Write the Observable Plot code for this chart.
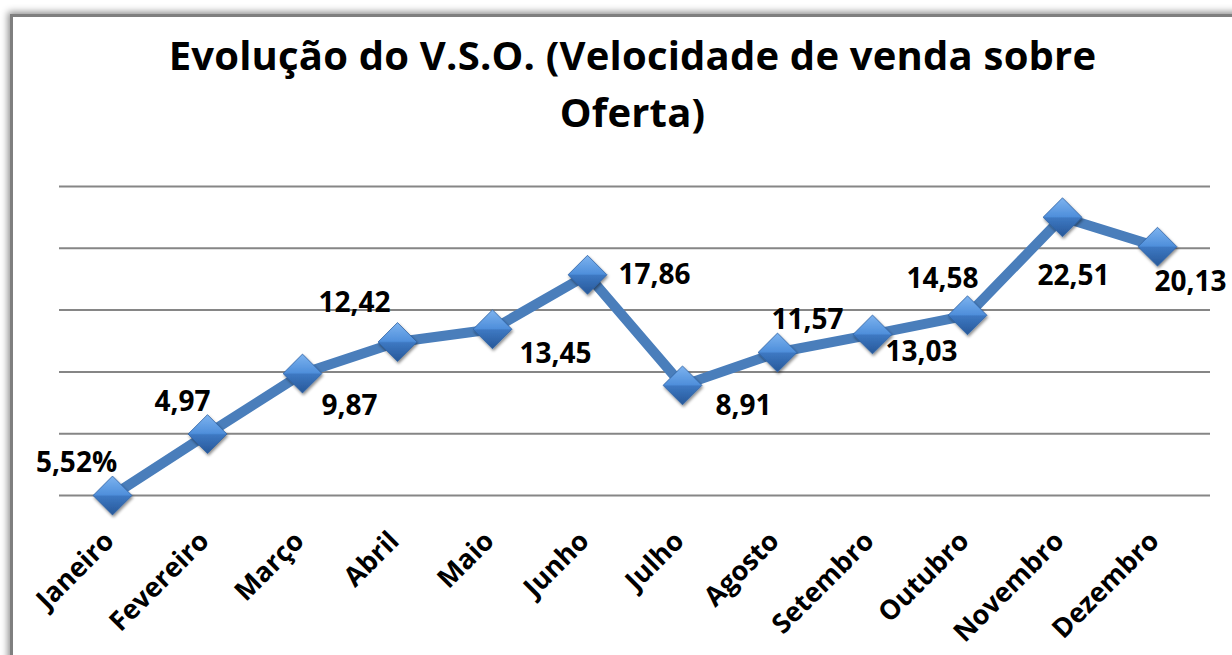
<!DOCTYPE html>
<html>
<head>
<meta charset="utf-8">
<script src="https://cdn.jsdelivr.net/npm/d3@7"></script>
<script src="https://cdn.jsdelivr.net/npm/@observablehq/plot@0.6"></script>
<style>
  html, body { margin: 0; padding: 0; background: #fff; }
  #wrap { position: relative; width: 1232px; height: 655px; overflow: hidden; background: #fff; }
  #frame { position: absolute; left: 10px; top: 14px; width: 1300px; height: 720px;
           border-left: 3px solid #7f7f7f; border-top: 3px solid #7f7f7f;
           box-shadow: -2px -2px 7px rgba(0,0,0,0.45); background: #fff; }
  #title { position: absolute; left: 0; top: 26px; width: 1265px; text-align: center;
           font-family: "Open Sans", Lato, sans-serif; font-weight: 700; font-size: 40px;
           letter-spacing: 0.2px; line-height: 57px; color: #000; }
  #chart { position: absolute; left: 0; top: 150px; }
  #chart svg { overflow: visible; }
</style>
</head>
<body>
<div id="wrap">
  <div id="frame"></div>
  <div id="title">Evolução do V.S.O. (Velocidade de venda sobre<br>Oferta)</div>
  <div id="chart"></div>
</div>
<script>
// Data
const months = ["Janeiro", "Fevereiro", "Março", "Abril", "Maio", "Junho", "Julho", "Agosto", "Setembro", "Outubro", "Novembro", "Dezembro"];
const values = [0, 4.97, 9.87, 12.42, 13.45, 17.86, 8.91, 11.57, 13.03, 14.58, 22.51, 20.13];
const labels = ["5,52%", "4,97", "9,87", "12,42", "13,45", "17,86", "8,91", "11,57", "13,03", "14,58", "22,51", "20,13"];
const gridTicks = [0, 5, 10, 15, 20, 25];

// Label placement (layout only), px offsets from each point
const labelOffsets = [[-36, -32], [-25, -32], [47, 33], [-43, -39], [63, 25], [67, 0], [61, 21], [30, -32], [49, 18], [-25, -36], [11, 59], [33, 35]];

const data = months.map((m, i) => ({month: m, value: values[i], label: labels[i]}));

const FONT = "'Open Sans', Lato, sans-serif";

const defsMark = () => {
  const defs = d3.create("svg:defs");
  const g = defs.append("linearGradient").attr("id", "dg").attr("x1", 0).attr("y1", 0).attr("x2", 0).attr("y2", 1);
  g.append("stop").attr("offset", "0%").attr("stop-color", "#7db3ef");
  g.append("stop").attr("offset", "48%").attr("stop-color", "#4f8fdb");
  g.append("stop").attr("offset", "52%").attr("stop-color", "#3d78c2");
  g.append("stop").attr("offset", "100%").attr("stop-color", "#275899");
  const f = defs.append("filter").attr("id", "sh").attr("x", "-50%").attr("y", "-50%").attr("width", "200%").attr("height", "200%");
  f.append("feDropShadow").attr("dx", 1).attr("dy", 2).attr("stdDeviation", 1.5).attr("flood-color", "#000").attr("flood-opacity", 0.45);
  return defs.node();
};

const labelMarks = data.map((d, i) => Plot.text([d], {
  x: "month", y: "value", text: "label",
  dx: labelOffsets[i][0], dy: labelOffsets[i][1],
  fontSize: 28, fontWeight: "bold", fill: "#000",
  fontFamily: FONT, textAnchor: "middle"
}));

const chart = Plot.plot({
  width: 1232,
  height: 505,
  marginTop: 36,
  marginBottom: 160,
  marginLeft: 59,
  marginRight: 22,
  style: {background: "transparent", overflow: "visible"},
  x: {type: "point", domain: months, padding: 0.5, axis: null},
  y: {domain: [0, 25], axis: null},
  marks: [
    defsMark,
    Plot.ruleY(gridTicks, {stroke: "#868686", strokeWidth: 2}),
    Plot.lineY(data, {x: "month", y: "value", stroke: "#4a7ebb", strokeWidth: 10, strokeLinejoin: "round"}),
    Plot.dot(data, {x: "month", y: "value", symbol: "diamond2", r: 17.5, fill: "url(#dg)", stroke: "#2f62a3", strokeWidth: 0.8}),
    ...labelMarks,
    Plot.text(months, {
      x: d => d, y: () => 0, text: d => d,
      rotate: -45, textAnchor: "end", dx: -3, dy: 41,
      fontSize: 27, fontWeight: "bold", fill: "#000",
      fontFamily: FONT
    })
  ]
});
d3.select(chart).selectAll("g[aria-label='dot'] path").attr("filter", "url(#sh)");
document.getElementById("chart").appendChild(chart);
</script>
</body>
</html>
